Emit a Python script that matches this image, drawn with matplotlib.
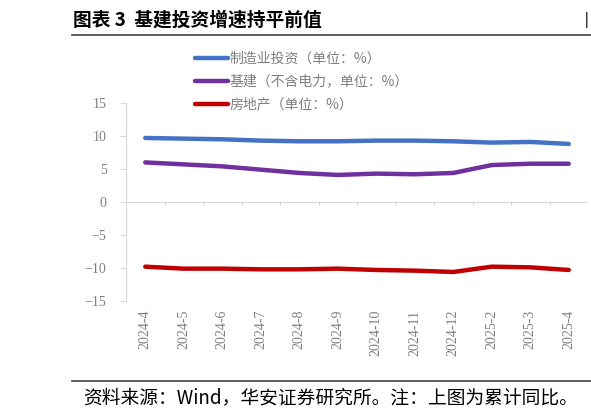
import matplotlib
matplotlib.use("Agg")
from matplotlib import pyplot as plt
import numpy as np

plt.rcParams['font.family'] = ['Liberation Serif', 'Noto Sans CJK SC', 'DejaVu Sans']

months = ['2024-4', '2024-5', '2024-6', '2024-7', '2024-8', '2024-9',
          '2024-10', '2024-11', '2024-12', '2025-2', '2025-3', '2025-4']
manufacturing = [9.7, 9.6, 9.5, 9.3, 9.2, 9.2, 9.3, 9.3, 9.2, 9.0, 9.1, 8.8]
infrastructure = [6.0, 5.7, 5.4, 4.9, 4.4, 4.1, 4.3, 4.2, 4.4, 5.6, 5.8, 5.8]
real_estate = [-9.8, -10.1, -10.1, -10.2, -10.2, -10.1, -10.3, -10.4, -10.6, -9.8, -9.9, -10.3]
series_names = ['制造业投资（单位：%）', '基建（不含电力，单位：%）', '房地产（单位：%）']
colors = ['#4472C4', '#7030A0', '#C00000']

fig = plt.figure(figsize=(5.91, 4.16), dpi=100)
ax = fig.add_axes([126/591, 1-301/416, (588-126)/591, (301-103)/416])

x = np.arange(len(months))
for vals, name, c in zip([manufacturing, infrastructure, real_estate], series_names, colors):
    ax.plot(x, vals, color=c, linewidth=3.2, label=name, solid_capstyle='round')

ax.set_ylim(-15, 15)
ax.set_yticks([-15, -10, -5, 0, 5, 10, 15])
ax.set_xlim(-0.5, len(months) - 0.5)
ax.set_xticks([])
for s in ['top', 'right', 'bottom']:
    ax.spines[s].set_visible(False)
ax.spines['left'].set_color('#d9d9d9')
ax.tick_params(axis='y', length=4, color='#d9d9d9', labelcolor='#7f7f7f', labelsize=10, pad=10)
for lab in ax.get_yticklabels():
    lab.set_fontfamily('Liberation Serif')

# zero line acting as category axis
ax.axhline(0, color='#d9d9d9', linewidth=0.8)
for b in np.arange(0.5, len(months) - 0.5, 1):
    ax.plot([b, b], [0, -0.5], color='#d9d9d9', linewidth=0.8)

# rotated month labels below the plot area
for i, m in enumerate(months):
    ax.text(i, -16.3, m, rotation=90, ha='center', va='top', color='#7f7f7f',
            fontsize=10, family='Liberation Serif')

leg = fig.legend(loc='upper left', bbox_to_anchor=(182/591, 1-39/416), frameon=False,
                 handlelength=2.4, labelspacing=0.65, handletextpad=0.15,
                 prop={'family': ['Noto Sans CJK SC'], 'size': 10})
for t in leg.get_texts():
    t.set_color('#7f7f7f')

fig.text(73/591, 1-20/416, '图表 3  基建投资增速持平前值', fontsize=13.5, fontweight='bold',
         family=['Noto Sans CJK SC'], va='center', ha='left')
fig.text(585/591, 1-20/416, '|', fontsize=12, fontweight='bold', va='center', ha='left')
fig.add_artist(plt.Line2D([72/591, 1], [1-35/416, 1-35/416], color='#404040', linewidth=1.2))
fig.add_artist(plt.Line2D([72/591, 1], [1-381/416, 1-381/416], color='#404040', linewidth=1.2))
fig.text(83/591, 1-398/416, '资料来源：Wind，华安证券研究所。注：上图为累计同比。', fontsize=13.5,
         family=['Noto Sans CJK SC'], va='center', ha='left')

fig.savefig('out.png', dpi=100)
